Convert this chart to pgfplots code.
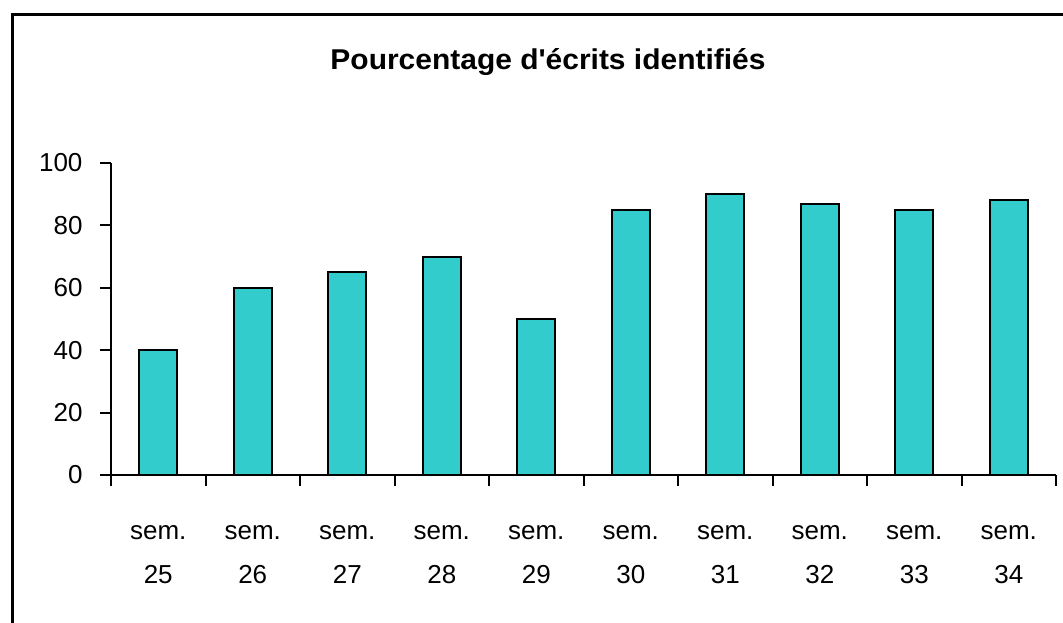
\documentclass[border=0pt]{standalone}
\usepackage{pgfplots}
\pgfplotsset{compat=1.18}
\usepackage{fontspec}
\setmainfont{Liberation Sans}
\definecolor{barc}{HTML}{33CCCC}
\begin{document}
\begin{tikzpicture}[x=1pt,y=1pt]
\useasboundingbox (0,0) rectangle (1063,623);
\begin{scope}
\clip (0,0) rectangle (1063,623);
\draw[line width=3pt] (12,-20) -- (12,608) -- (1100,608);
\end{scope}
\node[anchor=base, inner sep=0pt] at (548,553) {\resizebox{435pt}{21pt}{\bfseries Pourcentage d\textquotesingle écrits identifiés}};
\begin{axis}[
  at={(111pt,148pt)}, anchor=south west,
  scale only axis, width=945pt, height=312pt,
  xmin=-0.5, xmax=9.5, ymin=0, ymax=100,
  axis x line*=bottom, axis y line*=left,
  axis line style={line width=2pt},
  ytick={0,20,...,100},
  xtick={-0.5,0.5,...,9.5}, xticklabels={},
  extra x ticks={0,1,2,3,4,5,6,7,8,9},
  extra x tick labels={sem.\\25,sem.\\26,sem.\\27,sem.\\28,sem.\\29,sem.\\30,sem.\\31,sem.\\32,sem.\\33,sem.\\34},
  extra x tick style={major tick length=0pt, tick style={draw=none}},
  tick align=outside, major tick length=11pt,
  tick style={line width=2pt, black},
  /pgf/number format/assume math mode=true,
  tick label style={font=\fontsize{26}{44}\selectfont},
  xticklabel style={align=center, yshift=-47pt},
  yticklabel style={xshift=-14pt},
  ybar, bar width=0.4,
]
\addplot[fill=barc, draw=black, line width=2pt] coordinates {(0,40)(1,60)(2,65)(3,70)(4,50)(5,85)(6,90)(7,87)(8,85)(9,88)};
\end{axis}
\end{tikzpicture}
\end{document}
